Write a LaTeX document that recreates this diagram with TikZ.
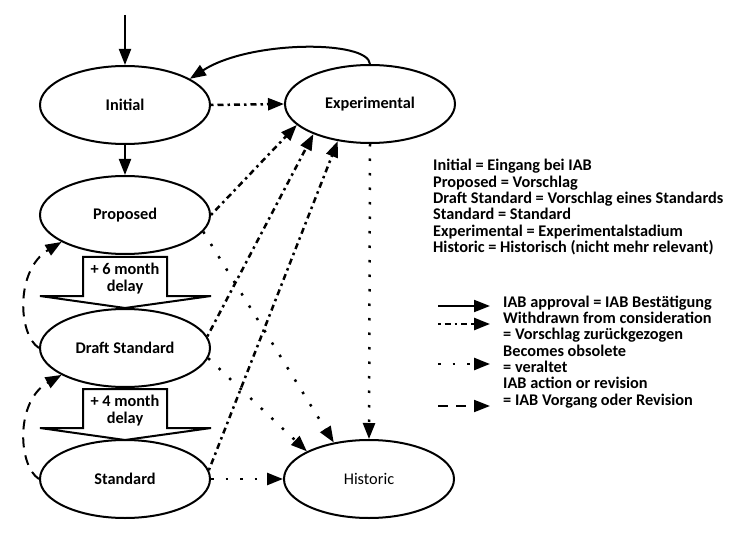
\documentclass[tikz,border=0pt]{standalone}
\usepackage{fontspec}
\setmainfont{Carlito}
\usetikzlibrary{shapes.geometric,arrows.meta}
\begin{document}
\begin{tikzpicture}[x=1pt,y=-1pt,
  state/.style={ellipse,draw,line width=2pt,minimum width=170pt,minimum height=78pt,inner sep=0pt,font=\bfseries\fontsize{16.3}{17}\selectfont},
  tipped/.style={-{Triangle[length=16pt,width=12pt]}},
  approval/.style={tipped,line width=2pt},
  withdrawn/.style={tipped,line width=2.5pt,dash pattern=on 2.5pt off 4pt on 6pt off 4pt},
  obsolete/.style={tipped,line width=2.5pt,dash pattern=on 2.5pt off 12pt},
  revision/.style={tipped,line width=2pt,dash pattern=on 10pt off 8pt},
  legtext/.style={anchor=base west,inner sep=0pt,font=\bfseries\fontsize{16.3}{17}\selectfont},
  delaybox/.style={draw,line width=2pt,line join=miter},
  delaytext/.style={align=center,inner sep=0pt,font=\bfseries\fontsize{16.3}{17}\selectfont}
]
\useasboundingbox (0,0) rectangle (739,540);

% states
\node[state] (i) at (125,105) {Initial};
\node[state] (e) at (370,104) {Experimental};
\node[state] (p) at (125,215) {Proposed};
\node[state] (ds) at (125,348) {Draft Standard};
\node[state] (s) at (125,479) {Standard};
\node[state,font=\fontsize{16.3}{17}\selectfont] (h) at (369,479) {Historic};

% delay block arrows
\draw[delaybox] (83,257) -- (167,257) -- (167,296) -- (211,296) -- (125,308) -- (40,296) -- (83,296) -- cycle;
\node[delaytext] (d6) at (125,279) {+ 6 month\\delay};
\draw[delaybox] (83,389) -- (167,389) -- (167,428) -- (211,428) -- (125,440) -- (40,428) -- (83,428) -- cycle;
\node[delaytext] (d4) at (125,411) {+ 4 month\\delay};

% approval
\coordinate (start) at (125,15);
\draw[approval] (start) -- (i.north);
\draw[approval] (i.south) -- (p.north);
\draw[approval] (e.north) .. controls (368,40) and (250,40) .. (i.22);

% withdrawn
\draw[withdrawn] (i.east) -- (e.west);
\draw[withdrawn] (p.east) -- (e.196);
\draw[withdrawn] (ds.8) -- (e.208);
\draw[withdrawn] (s.6) -- (e.229);

% obsolete
\draw[obsolete] (e.south) -- (h.north);
\draw[obsolete] (p.-12) -- (h.134);
\draw[obsolete] (ds.-7) -- (h.156);
\draw[obsolete] (s.east) -- (h.west);

% revision
\draw[revision] (ds.west) .. controls (18,335) and (15,270) .. (p.203);
\draw[revision] (s.west) .. controls (18,466) and (15,401) .. (ds.203);

% legend top
\node[legtext] (l1) at (433,171) {Initial = Eingang bei IAB};
\node[legtext] (l2) at (433,187.3) {Proposed = Vorschlag};
\node[legtext] (l3) at (433,203.6) {Draft Standard = Vorschlag eines Standards};
\node[legtext] (l4) at (433,219.9) {Standard = Standard};
\node[legtext] (l5) at (433,236.2) {Experimental = Experimentalstadium};
\node[legtext] (l6) at (433,252.5) {Historic = Historisch (nicht mehr relevant)};

% legend arrows
\coordinate (a1s) at (438,306); \coordinate (a1e) at (490,306);
\coordinate (a2s) at (438,324); \coordinate (a2e) at (490,324);
\coordinate (a3s) at (438,364); \coordinate (a3e) at (490,364);
\coordinate (a4s) at (438,406); \coordinate (a4e) at (490,406);
\draw[approval] (a1s) -- (a1e);
\draw[withdrawn] (a2s) -- (a2e);
\draw[obsolete] (a3s) -- (a3e);
\draw[revision] (a4s) -- (a4e);

\node[legtext] (m1) at (503,307) {IAB approval = IAB Bestätigung};
\node[legtext] (m2) at (503,323) {Withdrawn from consideration};
\node[legtext] (m3) at (503,339) {= Vorschlag zurückgezogen};
\node[legtext] (m4) at (503,356) {Becomes obsolete};
\node[legtext] (m5) at (503,372) {= veraltet};
\node[legtext] (m6) at (503,388) {IAB action or revision};
\node[legtext] (m7) at (503,405) {= IAB Vorgang oder Revision};
\end{tikzpicture}
\end{document}
